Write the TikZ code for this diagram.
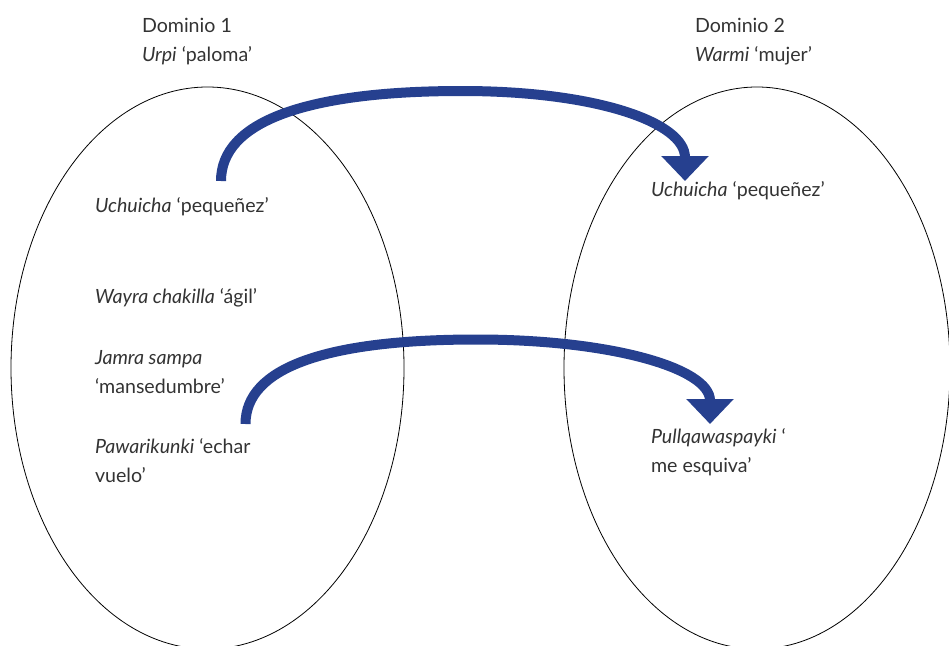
\documentclass[tikz,border=0pt]{standalone}
\usepackage{fontspec}
\setmainfont{Lato}
\usetikzlibrary{arrows.meta}
\definecolor{arrowblue}{HTML}{26408F}
\definecolor{txt}{HTML}{333333}
\tikzset{
  domainell/.style={draw=black, line width=0.8pt},
  lbl/.style={anchor=base west, inner sep=0pt, outer sep=0pt, text=txt, align=left,
    font=\fontsize{19.6}{29}\selectfont},
  bigarrow/.style={draw=arrowblue, line width=10pt, -{Triangle[width=46pt,length=25pt]}}
}
\begin{document}
\begin{tikzpicture}[x=1pt,y=-1pt]
\useasboundingbox (0,0) rectangle (949,645);
% domains
\draw[domainell] (207.5,368) ellipse [x radius=196.5, y radius=281];
\draw[domainell] (757,368) ellipse [x radius=193, y radius=281];
% headings (base = baseline of last line)
\node[lbl] (h1) at (142,61.5) {Dominio 1\\\textit{Urpi} ‘paloma’};
\node[lbl] (h2) at (695,61.5) {Dominio 2\\\textit{Warmi} ‘mujer’};
% left items
\node[lbl] (l1) at (95,212) {\textit{Uchuicha} ‘pequeñez’};
\node[lbl] (l2) at (95,303) {\textit{Wayra chakilla} ‘ágil’};
\node[lbl] (l3) at (95,393.5) {\textit{Jamra sampa}\\‘mansedumbre’};
\node[lbl] (l4) at (95,482) {\textit{Pawarikunki} ‘echar\\vuelo’};
% right items
\node[lbl] (r1) at (651,196) {\textit{Uchuicha} ‘pequeñez’};
\node[lbl] (r2) at (651,472) {\textit{Pullqawaspayki} ‘\\me esquiva’};
% connector end points
\coordinate (s1) at (221,181);
\coordinate (p1) at (462,91);
\coordinate (t1) at (685,181);
\coordinate (s2) at (245.5,424);
\coordinate (p2) at (477,339.5);
\coordinate (t2) at (710,424);
\draw[bigarrow] (s1) .. controls (221,122) and (305,91) .. (p1)
  .. controls (595,91) and (685,122) .. (t1);
\draw[bigarrow] (s2) .. controls (245.5,368) and (325,339.5) .. (p2)
  .. controls (610,339.5) and (710,368) .. (t2);
\end{tikzpicture}
\end{document}
